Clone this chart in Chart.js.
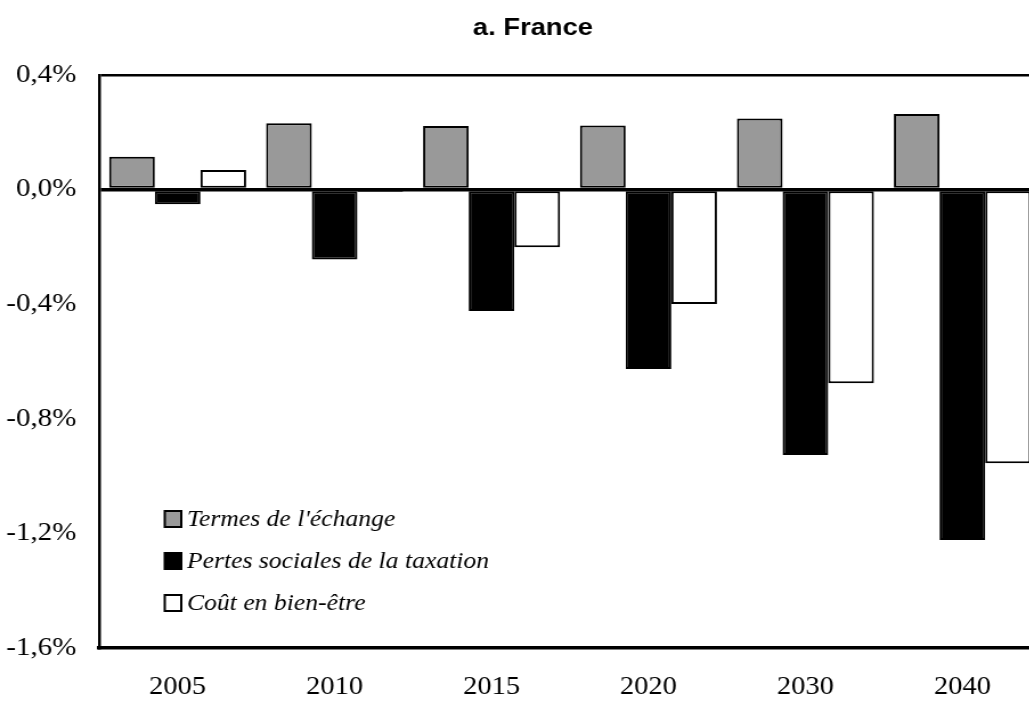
<!DOCTYPE html>
<html>
<head>
<meta charset="utf-8">
<script src="https://cdn.jsdelivr.net/npm/chart.js@4.4.1/dist/chart.umd.min.js"></script>
<style>
  html, body { margin: 0; padding: 0; background: #fff; overflow: hidden; }
  #wrap { width: 920px; height: 701px; transform: scaleX(1.14); transform-origin: 0 0; }
</style>
</head>
<body>
<div id="wrap"><canvas id="chart" width="920" height="701"></canvas></div>
<script>
const titleText = 'a. France';
const categories = ['2005', '2010', '2015', '2020', '2030', '2040'];
const seriesNames = ["Termes de l'échange", 'Pertes sociales de la taxation', 'Coût en bien-être'];
const termes = [0.115, 0.232, 0.222, 0.224, 0.248, 0.264];
const pertes = [-0.051, -0.244, -0.424, -0.626, -0.926, -1.223];
const cout = [0.068, -0.008, -0.201, -0.399, -0.676, -0.955];
const yTicks = [0.4, 0.0, -0.4, -0.8, -1.2, -1.6];

const fills = ['#999999', '#000000', '#ffffff'];

const fmt = v => v.toFixed(1).replace('-0.0', '0.0').replace('.', ',') + '%';

// title and legend drawn by hand so they sit where the original has them
const decor = {
  id: 'decor',
  afterDraw(chart) {
    const ctx = chart.ctx;
    ctx.save();
    ctx.fillStyle = '#000';
    ctx.font = 'bold 24px "Liberation Sans", Arial, sans-serif';
    ctx.textAlign = 'center';
    ctx.textBaseline = 'middle';
    ctx.fillText(titleText, 467.5, 28);

    const rows = [519, 561, 603];
    ctx.font = 'italic 22.5px "Liberation Serif", "Times New Roman", serif';
    ctx.textAlign = 'left';
    chart.data.datasets.forEach((ds, i) => {
      const y = rows[i];
      ctx.fillStyle = ds.backgroundColor;
      ctx.fillRect(144.5, y - 8, 14.5, 16);
      ctx.strokeStyle = '#000';
      ctx.lineWidth = 2;
      ctx.strokeRect(144.5, y - 8, 14.5, 16);
      ctx.fillStyle = '#000';
      ctx.fillText(ds.label, 164, y + 1);
    });
    ctx.restore();
  }
};

const isAt = (v, t) => Math.abs(v - t) < 1e-9;

new Chart(document.getElementById('chart'), {
  type: 'bar',
  data: {
    labels: categories,
    datasets: [
      { label: seriesNames[0], data: termes, backgroundColor: fills[0] },
      { label: seriesNames[1], data: pertes, backgroundColor: fills[1] },
      { label: seriesNames[2], data: cout, backgroundColor: fills[2] }
    ]
  },
  options: {
    responsive: false,
    animation: false,
    layout: { padding: { top: 75, left: 0, right: 7, bottom: 0 } },
    datasets: {
      bar: {
        borderColor: '#000',
        borderWidth: 2,
        borderSkipped: false,
        categoryPercentage: 0.873,
        barPercentage: 1.0
      }
    },
    plugins: {
      legend: { display: false },
      title: { display: false },
      tooltip: { enabled: false }
    },
    scales: {
      x: {
        grid: { display: false },
        border: { display: true, color: '#000', width: 3.5 },
        ticks: {
          color: '#000',
          padding: 21,
          font: { family: '"Liberation Serif", "Times New Roman", serif', size: 25, lineHeight: 0.8 }
        },
        afterFit: s => { s.height = 53; }
      },
      y: {
        min: -1.6,
        max: 0.4,
        afterBuildTicks: s => { s.ticks = yTicks.map(v => ({ value: v })); },
        grid: {
          drawTicks: false,
          color: c => (isAt(c.tick.value, 0) || isAt(c.tick.value, 0.4)) ? '#000' : 'rgba(0,0,0,0)',
          lineWidth: c => isAt(c.tick.value, 0) ? 3.5 : 2.5
        },
        border: { display: true, color: '#000', width: 2.5 },
        ticks: {
          color: '#000',
          padding: 20,
          callback: v => fmt(v),
          font: { family: '"Liberation Serif", "Times New Roman", serif', size: 25.5 }
        },
        afterFit: s => { s.width = 87; }
      }
    }
  },
  plugins: [decor]
});
</script>
</body>
</html>
